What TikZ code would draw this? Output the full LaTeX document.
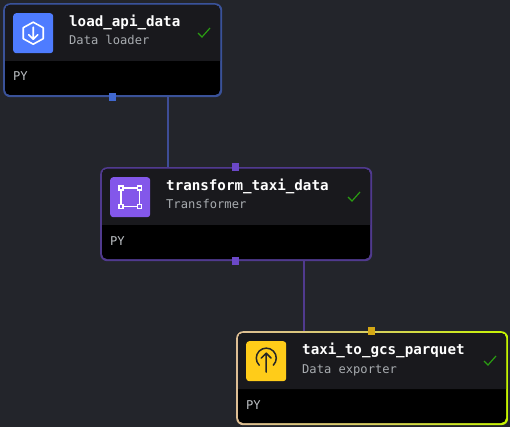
\documentclass[tikz,border=0pt]{standalone}
\usepackage{fontspec}
\setmonofont{DejaVu Sans Mono}
\definecolor{bgc}{HTML}{23252B}
\definecolor{hdr}{HTML}{19191D}
\definecolor{blueb}{HTML}{3A5299}
\definecolor{purpb}{HTML}{503A8E}
\definecolor{blueport}{HTML}{4068D0}
\definecolor{purpport}{HTML}{6B48C8}
\definecolor{yelport}{HTML}{D4A815}
\definecolor{blueic}{HTML}{4E7CFF}
\definecolor{purpic}{HTML}{8357EA}
\definecolor{yelic}{HTML}{FFCC19}
\definecolor{okc}{HTML}{2A9D12}
\definecolor{subc}{HTML}{A8ACB0}
\definecolor{pyc}{HTML}{BCC0C4}
\definecolor{tan}{HTML}{DDBE94}
\definecolor{lime}{HTML}{C6F500}
\definecolor{mid}{HTML}{D8CF60}
\tikzset{
  cardbox/.style={rectangle,rounded corners=7pt,inner sep=0pt,anchor=north west,draw=none},
  titletext/.style={anchor=base west,inner sep=0pt,text=white,font=\fontsize{14.2}{16}\selectfont\ttfamily\bfseries},
  subtext/.style={anchor=base west,inner sep=0pt,text=subc,font=\fontsize{12.1}{14}\selectfont\ttfamily},
  pytext/.style={anchor=base west,inner sep=0pt,text=pyc,font=\fontsize{12.1}{14}\selectfont\ttfamily},
  porthole/.style={rectangle,minimum size=7.5pt,inner sep=0pt},
  iconbox/.style={rectangle,rounded corners=3pt,minimum size=40pt,inner sep=0pt,anchor=north west},
  iconline/.style={white,line width=1.6pt,line cap=round,line join=round},
  okmark/.style={okc,line width=1.2pt},
  wirea/.style={line width=2pt,draw=blueb!80!purpb},
  wireb/.style={line width=2pt,draw=purpb},
}
% name, x, y, w, card style, unused, icon colour, title, subtitle
\newcommand\mycard[9]{%
  \begin{scope}[shift={(#2,#3)}]
    \node[cardbox,minimum width=#4pt,minimum height=94pt,#5] (#1) at (0,0) {};
    \fill[black,rounded corners=5pt] (2,2) rectangle (#4-2,92);
    \fill[hdr] (2,58) [rounded corners=5pt] -- (2,2) -- (#4-2,2) [sharp corners] -- (#4-2,58) -- cycle;
    \node[iconbox,fill=#7] (#1icon) at (10,10) {};
    \node[titletext] (#1title) at (66,23.5) {#8};
    \node[subtext] (#1sub) at (66,42) {#9};
    \node[pytext] (#1py) at (10,78) {PY};
    \draw[okmark] (#4-24,30) -- (#4-20,34) -- (#4-12,25);
  \end{scope}}
\begin{document}
\begin{tikzpicture}[x=1pt,y=-1pt]
\useasboundingbox (0,0) rectangle (510,427);
\fill[bgc] (0,0) rectangle (510,427);

\mycard{load}{3}{3}{219}{fill=blueb}{}{blueic}{load\_api\_data}{Data loader}
\mycard{transform}{100}{167}{272}{fill=purpb}{}{purpic}{transform\_taxi\_data}{Transformer}
\mycard{export}{236}{331}{272}{left color=tan,right color=lime,middle color=mid}{}{yelic}{taxi\_to\_gcs\_parquet}{Data exporter}

% connectors
\coordinate (wa) at (168,97);
\coordinate (wb) at (304,261);
\draw[wirea] (wa |- load.south) -- (wa |- transform.north);
\draw[wireb] (wb |- transform.south) -- (wb |- export.north);

% ports
\node[porthole,fill=blueport] (loadout) at (112.6,97) {};
\node[porthole,fill=purpport] (transin) at (235.5,167) {};
\node[porthole,fill=purpport] (transout) at (235.5,261) {};
\node[porthole,fill=yelport] (expin) at (371.3,331) {};

% icon: download hexagon
\begin{scope}[shift={(loadicon.center)}]
  \draw[iconline] (0,-11) -- (10,-5.5) -- (10,5.5) -- (0,11) -- (-10,5.5) -- (-10,-5.5) -- cycle;
  \draw[iconline] (0,-6) -- (0,6) (-4.5,1.5) -- (0,6) -- (4.5,1.5);
\end{scope}
% icon: transform square
\begin{scope}[shift={(transformicon.center)}]
  \draw[iconline] (-9.2,-9.2) rectangle (9.2,9.2);
  \foreach \px/\py in {-9.2/-9.2,9.2/-9.2,-9.2/9.2,9.2/9.2}
    \draw[white,line width=1.3pt,fill=purpic] (\px-2,\py-2) rectangle (\px+2,\py+2);
\end{scope}
% icon: upload arc
\begin{scope}[shift={(exporticon.center)}]
  \draw[black!85,line width=1.5pt,line cap=round] (-7,4) arc[start angle=-135,end angle=-405,radius=10,y radius=-10];
  \draw[black!85,line width=1.5pt,line cap=round,line join=round] (0,11) -- (0,-8) (-5,-3) -- (0,-8) -- (5,-3);
\end{scope}
\end{tikzpicture}
\end{document}
